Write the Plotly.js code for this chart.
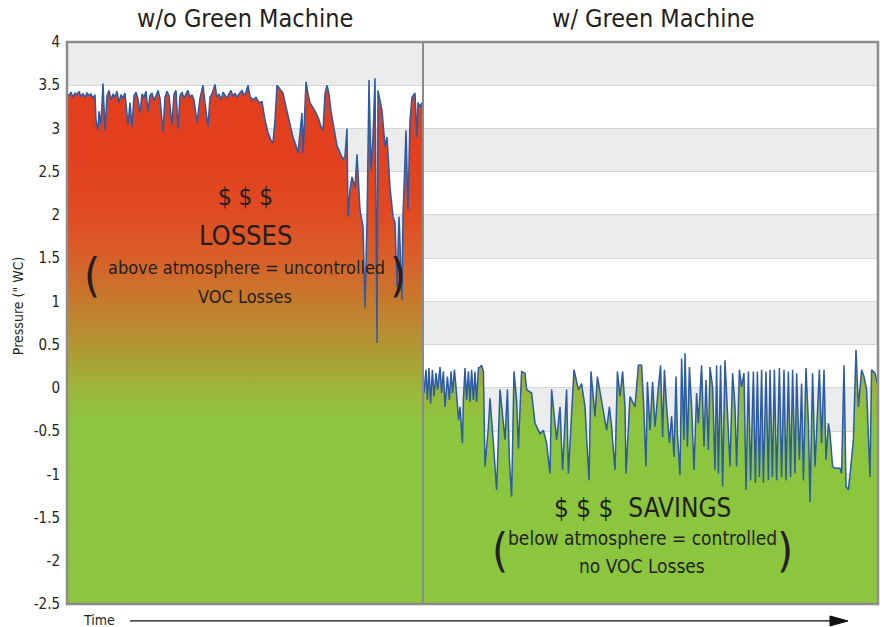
<!DOCTYPE html>
<html>
<head>
<meta charset="utf-8">
<script src="https://cdn.plot.ly/plotly-3.0.1.min.js"></script>
<style>html,body{margin:0;padding:0;background:#fff;}#chart{width:885px;height:627px;}</style>
</head>
<body>
<div id="chart"></div>
<script>
// ---- data (time in minutes, pressure in inches WC) ----
const tLeft = [0,1,2,3,4,5,6,7,8,9,10,11,12,13,14,14.5,15.5,16,17,18,19,20,21,22,23,24,25,26,27,28,29,30.5,31.5,32.5,33.5,34.5,35.5,36.5,37.5,38.5,39.5,40.5,41.5,42.5,43.5,44.5,45.5,46.5,48,49,50,51,52.5,53.5,54.5,55.5,56.5,57.5,58.5,59.5,60.5,61.5,62.5,63.5,65,66.5,68,69,70.5,71.5,72.5,74,75,76,77,78,79,80,81,82,83,84,85,86,87.5,88.5,89.5,90.5,91.5,93,94.5,96,97.5,99,100.5,102,103,104,105,106.5,108,109,110,111.5,113,114.5,115.5,116.5,117.5,118,119,119.5,120.5,121.5,123,124.5,126,127,128,129,130,131,132,133.5,135,136.5,138,139,140,140.5,141.5,142.5,144,145,146.5,148,149,150,150.5,151,152,153,154,155,155.5,156.5,157.5,159,160,161.5,163,164,165,166,167.5,168,169.5,170.5,171.5,172.5,174,175,175.5,176.5,177.5];
const pLeft = [3.40,3.38,3.42,3.36,3.41,3.39,3.43,3.37,3.40,3.36,3.41,3.38,3.40,3.35,3.39,3.10,2.98,3.20,3.05,3.52,2.98,3.38,3.44,3.33,3.40,3.36,3.43,3.30,3.39,3.35,3.41,3.04,3.30,3.02,3.38,3.42,3.34,3.18,3.40,3.36,3.43,3.20,3.38,3.41,3.32,3.39,3.44,3.35,2.96,3.36,3.43,3.38,3.04,3.40,3.44,3.00,3.38,3.42,3.35,3.40,3.44,3.36,3.39,3.33,3.07,3.35,3.50,3.30,3.02,3.36,3.40,3.51,3.36,3.40,3.33,3.42,3.38,3.35,3.40,3.44,3.37,3.41,3.36,3.40,3.44,3.38,3.42,3.50,3.37,3.33,3.36,3.30,3.31,3.10,2.95,2.86,2.83,3.10,3.50,3.45,3.41,3.30,3.20,3.02,2.90,2.80,2.72,2.95,3.18,2.72,3.20,3.54,3.40,3.30,3.24,3.18,3.10,3.02,2.98,3.40,3.50,3.40,3.20,3.00,2.80,2.72,2.64,2.68,3.00,1.98,2.30,2.44,2.32,2.70,2.06,1.86,0.93,1.91,2.98,3.56,2.52,2.90,3.58,0.52,3.44,3.30,3.21,2.79,2.90,2.32,1.98,1.91,1.17,1.98,1.02,1.98,2.98,2.06,3.10,3.36,3.41,2.90,3.30,3.25,3.30];
const tRight = [178.5,179.5,180.2,181,181.8,182.7,183.5,184.5,185.3,186.5,187.3,188.2,189,190.2,191.2,192,192.8,193.7,194.5,195.2,195.8,196.5,197.2,197.7,198.2,199,199.8,200.7,201.5,202.3,203.2,204,204.8,205.7,206.5,207.3,208.2,209,210.7,211.5,213.2,214.8,216.5,219,220.2,221.2,222.3,223.5,224.8,225.7,227.3,229,229.8,232.3,234,236.5,238.2,239.8,241.5,242.3,244.8,246.5,247.8,249.8,250.7,253.5,255.7,257.3,259,261,262,264,265.2,267.3,268.7,269.8,271.2,272.3,274,275.2,276.5,277.8,279,279.5,281.5,284,285.7,287.3,288.2,289.5,290.2,291.5,292.8,294,295.7,296.8,297.8,298.7,299.8,301.2,302.3,303.5,304.5,305.2,306.5,307.3,308.5,309,310.2,311.2,312.3,313.5,314.8,315.7,317.3,318.5,319.5,320.7,321.5,322.8,324,324.8,325.7,326.8,327.8,329,331.5,332.8,334,334.8,336.2,337.3,338.5,339.5,340.7,341.8,343.2,344.2,345.2,346.2,347.3,348.2,349.5,350.7,351.5,352.7,353.7,354.8,356.2,357.3,358.5,359.5,360.7,361.8,362.8,364,364.8,366.2,367.3,368.2,369.5,370.7,371.5,372.8,374,375.2,376.2,377.3,378.5,379.5,380.7,381.5,382.8,384,385.7,386.5,387.3,388.5,389.5,390.7,391.5,393.2,394.5,395.7,397.3,398.5,399.8,401.5,402.3,404,405.2];
const pRight = [-0.06,0.21,-0.14,0.23,-0.18,0.21,-0.10,0.17,-0.02,0.24,-0.06,0.19,-0.22,0.13,-0.14,0.19,-0.06,0.21,0.01,-0.22,-0.37,-0.22,-0.45,-0.64,-0.14,0.23,-0.14,0.19,-0.16,0.21,-0.14,0.19,-0.16,0.23,0.24,0.26,0.19,-0.91,-0.45,-0.12,-0.64,-1.18,-0.02,-0.60,-0.02,-0.83,-1.26,0.19,-0.14,-0.70,0.19,0.17,-0.02,-0.06,-0.41,-0.53,-0.49,-0.64,-0.99,-0.02,-0.60,-0.22,-0.95,-0.02,-0.99,0.21,-0.02,0.05,-0.22,-1.07,0.19,-0.33,0.13,-0.14,-0.33,-0.49,-0.22,-0.45,-0.95,0.19,-0.10,0.19,-0.22,-0.99,-0.10,-0.22,0.26,0.26,-0.14,-0.91,0.07,-0.49,0.07,-0.45,0.01,0.26,-0.57,0.21,-0.22,-0.64,-0.33,-0.80,0.13,-0.53,-1.01,0.34,-0.60,0.40,-0.68,0.24,-0.22,-0.95,-0.06,-0.41,0.26,-0.68,0.09,-0.72,0.24,0.01,-0.95,0.26,-0.99,0.26,-1.14,0.32,-0.91,0.17,-0.22,-0.91,0.21,0.01,0.17,-1.18,0.19,-1.07,0.19,-1.10,0.19,-1.03,0.21,-1.10,0.19,-1.07,0.21,-1.03,0.21,-1.07,0.23,-1.03,0.21,-1.07,0.19,-1.03,0.21,-0.99,0.17,-0.83,0.05,-1.07,0.23,-0.41,-1.32,0.17,-0.91,-0.33,0.21,-0.64,0.21,-0.83,-0.41,-0.53,-0.91,-0.93,-0.93,-0.93,-0.99,0.26,-1.14,-1.18,-1.01,-0.60,0.44,-0.22,0.21,0.13,-0.02,-1.03,0.21,0.17,0.05];
const yTicks = [4,3.5,3,2.5,2,1.5,1,0.5,0,-0.5,-1,-1.5,-2,-2.5];
const grayBandLows = [3.5,2.5,1.5,0.5,-0.5,-1.5,-2.5];
const yMin = -2.5, yMax = 4;
const switchTime = 178;      // Green Machine switched on
const tEnd = 405.5;

const NARROW = "'Liberation Sans Narrow','Arial Narrow','DejaVu Sans Condensed',sans-serif";
const grad = {
  type: 'vertical', start: yMin, stop: yMax,
  colorscale: [[0,'#8cc63f'],[0.32,'#8cc63f'],[0.385,'#9cb639'],[0.462,'#b29532'],[0.538,'#c67a2c'],[0.615,'#d8602a'],[0.692,'#e04b22'],[0.8,'#e2401f'],[1,'#e23d1e']]
};
function floorTrace(t){ return {x:[t[0], t[t.length-1]], y:[yMin, yMin], mode:'lines', line:{width:0}, hoverinfo:'skip', showlegend:false}; }
function dataTrace(t,p){ return {x:t, y:p, mode:'lines', fill:'tonexty', fillgradient:grad, line:{color:'#2b5aa6', width:1.5}, hoverinfo:'skip', showlegend:false}; }

const traces = [floorTrace(tLeft), dataTrace(tLeft,pLeft), floorTrace(tRight), dataTrace(tRight,pRight)];

const shapes = grayBandLows.map(b => ({type:'rect', layer:'below', xref:'paper', x0:0, x1:1, yref:'y', y0:b, y1:b+0.5, fillcolor:'#ebecec', line:{width:0}}));
shapes.push({type:'line', xref:'x', x0:switchTime, x1:switchTime, yref:'paper', y0:0, y1:1, line:{color:'#8a8a8a', width:2}});
shapes.push({type:'rect', xref:'paper', x0:0, x1:1, yref:'paper', y0:0, y1:1, line:{color:'#8c8c8c', width:2.5}, fillcolor:'rgba(0,0,0,0)'});
// time arrow
shapes.push({type:'line', xref:'paper', yref:'paper', x0:0.0777, x1:0.945, y0:-0.0302, y1:-0.0302, line:{color:'#111', width:1.3}});
shapes.push({type:'path', xref:'paper', yref:'paper', path:'M0.9408,-0.0213 L0.963,-0.0302 L0.9408,-0.0391 Z', fillcolor:'#111', line:{color:'#111', width:1}});

function txt(x,y,text,size,extra){ return Object.assign({x:x, y:y, xref:'x', yref:'y', text:text, showarrow:false, font:{family:NARROW, size:size, color:'#231f20'}, xanchor:'center', yanchor:'middle'}, extra||{}); }
const annotations = [
  {xref:'paper', yref:'paper', x:0.2195, y:1.041, text:'w/o Green Machine', showarrow:false, font:{family:NARROW, size:25, color:'#231f20'}, xanchor:'center', yanchor:'middle'},
  {xref:'paper', yref:'paper', x:0.7226, y:1.041, text:'w/ Green Machine', showarrow:false, font:{family:NARROW, size:25, color:'#231f20'}, xanchor:'center', yanchor:'middle'},
  txt(89, 2.21, '$ $ $', 24),
  txt(89, 1.76, 'LOSSES', 27),
  txt(89.5, 1.39, 'above atmosphere = uncontrolled', 18),
  txt(89, 1.06, 'VOC Losses', 18),
  txt(12.5, 1.30, '(', 46),
  txt(165.5, 1.30, ')', 46),
  txt(287.5, -1.39, '$ $ $  SAVINGS', 26),
  txt(287.5, -1.74, 'below atmosphere = controlled', 19),
  txt(287.5, -2.06, 'no VOC Losses', 19),
  txt(216.5, -1.88, '(', 46),
  txt(359, -1.88, ')', 46),
  {xref:'paper', yref:'paper', x:0.0395, y:-0.0285, text:'Time', showarrow:false, font:{family:NARROW, size:14, color:'#231f20'}, xanchor:'center', yanchor:'middle'},
  {xref:'paper', yref:'paper', x:-0.0604, y:0.530, text:'Pressure (" WC)', textangle:-90, showarrow:false, font:{family:NARROW, size:14, color:'#231f20'}, xanchor:'center', yanchor:'middle'}
];

const layout = {
  width:885, height:627,
  margin:{l:67, r:7, t:42, b:23},
  paper_bgcolor:'#ffffff', plot_bgcolor:'#ffffff',
  showlegend:false,
  xaxis:{range:[0,tEnd], showticklabels:false, showgrid:false, zeroline:false, showline:false, ticks:''},
  yaxis:{range:[yMin,yMax], tickvals:yTicks, ticktext:yTicks.map(String), showgrid:true, gridcolor:'#d6d6d6', gridwidth:1, zeroline:false, showline:false, ticks:'', ticklabelstandoff:6, tickfont:{family:NARROW, size:15, color:'#231f20'}},
  shapes:shapes,
  annotations:annotations
};
Plotly.newPlot('chart', traces, layout, {staticPlot:true, displayModeBar:false});
</script>
</body>
</html>
